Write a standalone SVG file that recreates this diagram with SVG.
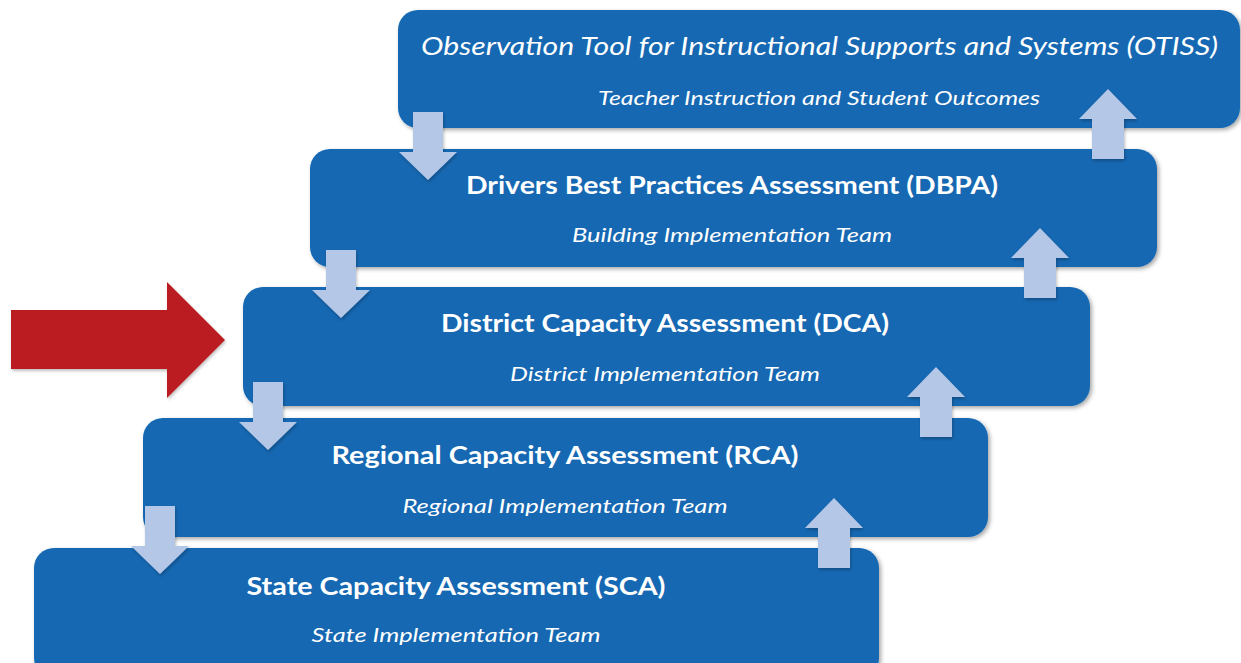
<svg xmlns="http://www.w3.org/2000/svg" width="1241" height="663" viewBox="0 0 1241 663">
<defs>
<filter id="sh" x="-5%" y="-10%" width="110%" height="130%">
<feDropShadow dx="2" dy="2" stdDeviation="2" flood-color="#000" flood-opacity="0.35"/>
</filter>
<filter id="sh2" x="-20%" y="-20%" width="140%" height="140%">
<feDropShadow dx="1" dy="2" stdDeviation="1.5" flood-color="#000" flood-opacity="0.25"/>
</filter>
<path id="down" d="M-15,0 H15 V40 H29 L0,68 L-29,40 H-15 Z"/>
<path id="up" d="M-16,70 H16 V30 H29 L0,0 L-29,30 H-16 Z"/>
</defs>
<style>
.box{fill:#1368B2;filter:url(#sh)}
.t{fill:#fff;font-family:Lato,"Open Sans","Liberation Sans",sans-serif;text-anchor:middle}
.b{font-weight:bold;font-size:24px}
.i{font-style:italic;font-size:20px}
.ti{font-style:italic;font-size:25px}
.arr{fill:#B4C7E7;filter:url(#sh2)}
</style>
<rect width="1241" height="663" fill="#fff"/>
<g id="otiss">
<rect class="box" x="398" y="10" width="842" height="118" rx="20"/>
<text class="t ti" x="819.5" y="55" textLength="797" lengthAdjust="spacingAndGlyphs">Observation Tool for Instructional Supports and Systems (OTISS)</text>
<text class="t i" x="819" y="105" textLength="442" lengthAdjust="spacingAndGlyphs">Teacher Instruction and Student Outcomes</text>
</g>
<g id="dbpa">
<rect class="box" x="310" y="149" width="847" height="118" rx="20"/>
<text class="t b" x="732" y="194" textLength="532" lengthAdjust="spacingAndGlyphs">Drivers Best Practices Assessment (DBPA)</text>
<text class="t i" x="732" y="242" textLength="320" lengthAdjust="spacingAndGlyphs">Building Implementation Team</text>
</g>
<g id="dca">
<rect class="box" x="243" y="287" width="847" height="119" rx="20"/>
<text class="t b" x="665" y="332" textLength="448" lengthAdjust="spacingAndGlyphs">District Capacity Assessment (DCA)</text>
<text class="t i" x="665" y="381" textLength="310" lengthAdjust="spacingAndGlyphs">District Implementation Team</text>
</g>
<g id="rca">
<rect class="box" x="143" y="418" width="845" height="119" rx="20"/>
<text class="t b" x="565" y="464" textLength="467" lengthAdjust="spacingAndGlyphs">Regional Capacity Assessment (RCA)</text>
<text class="t i" x="565" y="513" textLength="325" lengthAdjust="spacingAndGlyphs">Regional Implementation Team</text>
</g>
<g id="sca">
<rect class="box" x="34" y="548" width="845" height="130" rx="20"/>
<text class="t b" x="456" y="595" textLength="419" lengthAdjust="spacingAndGlyphs">State Capacity Assessment (SCA)</text>
<text class="t i" x="456" y="642" textLength="289" lengthAdjust="spacingAndGlyphs">State Implementation Team</text>
</g>
<g id="connectors">
<use href="#down" class="arr" x="428" y="112"/>
<use href="#down" class="arr" x="341" y="250"/>
<use href="#down" class="arr" x="268" y="382"/>
<use href="#down" class="arr" x="160" y="506"/>
<use href="#up" class="arr" x="1108" y="89"/>
<use href="#up" class="arr" x="1040" y="228"/>
<use href="#up" class="arr" x="936" y="367"/>
<use href="#up" class="arr" x="834" y="498"/>
<path d="M11,310 H167 V282 L225,340 L167,398 V369 H11 Z" fill="#BA1E23" filter="url(#sh2)"/>
</g>
</svg>
